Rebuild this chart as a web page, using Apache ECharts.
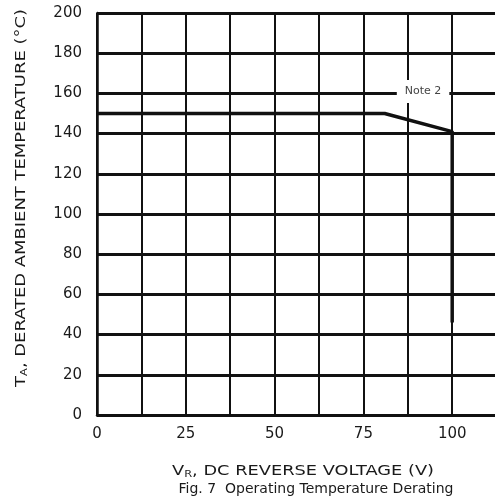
<!DOCTYPE html>
<html>
  <head>
    <meta charset="utf-8" />
    <title>Fig. 7 Operating Temperature Derating</title>
    <script src="https://cdn.jsdelivr.net/npm/echarts@6/dist/echarts.min.js"></script>
  </head>
  <body style="margin:0;padding:0;overflow:hidden;background:#fff;">
    <!-- chart is a bit wider than the window, right edge gets cut like the scan -->
    <div id="chart" style="width:545px;height:499px;"></div>
    <script type="text/javascript">
      // derating curve
      var voltage = [0, 81, 100, 100];
      var tempDerated = [150, 150, 141, 46];
      // note label
      var noteText = ['Note 2'];
      var notePos = [91.8, 161];

      var xTicks = [0, 25, 50, 75, 100];
      var yTicks = [0, 20, 40, 60, 80, 100, 120, 140, 160, 180, 200];

      var font = 'DejaVu Sans';
      var ink = '#1a1a1a';
      var myChart = echarts.init(document.getElementById('chart'), null, { renderer: 'canvas' });

      var curve = voltage.map(function (v, i) { return [v, tempDerated[i]]; });

      var nameRich = {
        v: { fontFamily: font, fontSize: 14, fill: ink, color: ink },
        sub: { fontFamily: font, fontSize: 9, fill: ink, color: ink, verticalAlign: 'bottom', padding: [7, 0, 0, 0] }
      };

      myChart.setOption({
        animation: false,
        grid: { left: 97, right: 4, top: 13, bottom: 84 },
        // axis titles and caption: the scan's type is wider than anything installed, so stretch it
        graphic: [
          {
            type: 'text',
            x: 303, y: 471, scaleX: 1.27,
            style: {
              text: '{v|V}{sub|R}{v|, DC REVERSE VOLTAGE (V)}',
              rich: nameRich,
              textAlign: 'center', textVerticalAlign: 'middle'
            }
          },
          {
            type: 'text',
            x: 316, y: 489,
            style: {
              text: 'Fig. 7  Operating Temperature Derating',
              font: '14px ' + font, fill: ink,
              textAlign: 'center', textVerticalAlign: 'middle'
            }
          },
          {
            type: 'text',
            x: 21, y: 198, rotation: Math.PI / 2, scaleX: 1.28,
            style: {
              text: '{v|T}{sub|A}{v|, DERATED AMBIENT TEMPERATURE (°C)}',
              rich: nameRich,
              textAlign: 'center', textVerticalAlign: 'middle'
            }
          }
        ],
        xAxis: {
          type: 'value',
          min: 0,
          max: 125,
          interval: 12.5,
          axisLine: { show: true, onZero: false, lineStyle: { color: '#111', width: 2.5 } },
          axisTick: { show: false },
          axisLabel: {
            margin: 12,
            fontFamily: font,
            fontSize: 15,
            color: ink,
            formatter: function (v) { return xTicks.indexOf(v) >= 0 ? String(v) : ''; }
          },
          splitLine: { show: true, lineStyle: { color: '#111', width: 2 } }
        },
        yAxis: {
          type: 'value',
          min: 0,
          max: 200,
          interval: 20,
          axisLine: { show: true, lineStyle: { color: '#111', width: 2.5 } },
          axisTick: { show: false },
          axisLabel: {
            margin: 15,
            fontFamily: font,
            fontSize: 15,
            color: ink,
            formatter: function (v) { return yTicks.indexOf(v) >= 0 ? String(v) : ''; }
          },
          splitLine: { show: true, lineStyle: { color: '#111', width: 3 } }
        },
        series: [
          {
            type: 'line',
            data: curve,
            symbol: 'none',
            lineStyle: { color: '#111', width: 3.5 },
            z: 3
          },
          {
            type: 'scatter',
            data: [notePos],
            symbolSize: 0,
            itemStyle: { opacity: 1 },
            z: 4,
            label: {
              show: true,
              position: 'inside',
              formatter: function () { return noteText[0]; },
              fontFamily: font,
              fontSize: 11,
              color: '#444',
              opacity: 1,
              backgroundColor: '#fff',
              padding: [6, 8]
            }
          }
        ]
      });
    </script>
  </body>
</html>
